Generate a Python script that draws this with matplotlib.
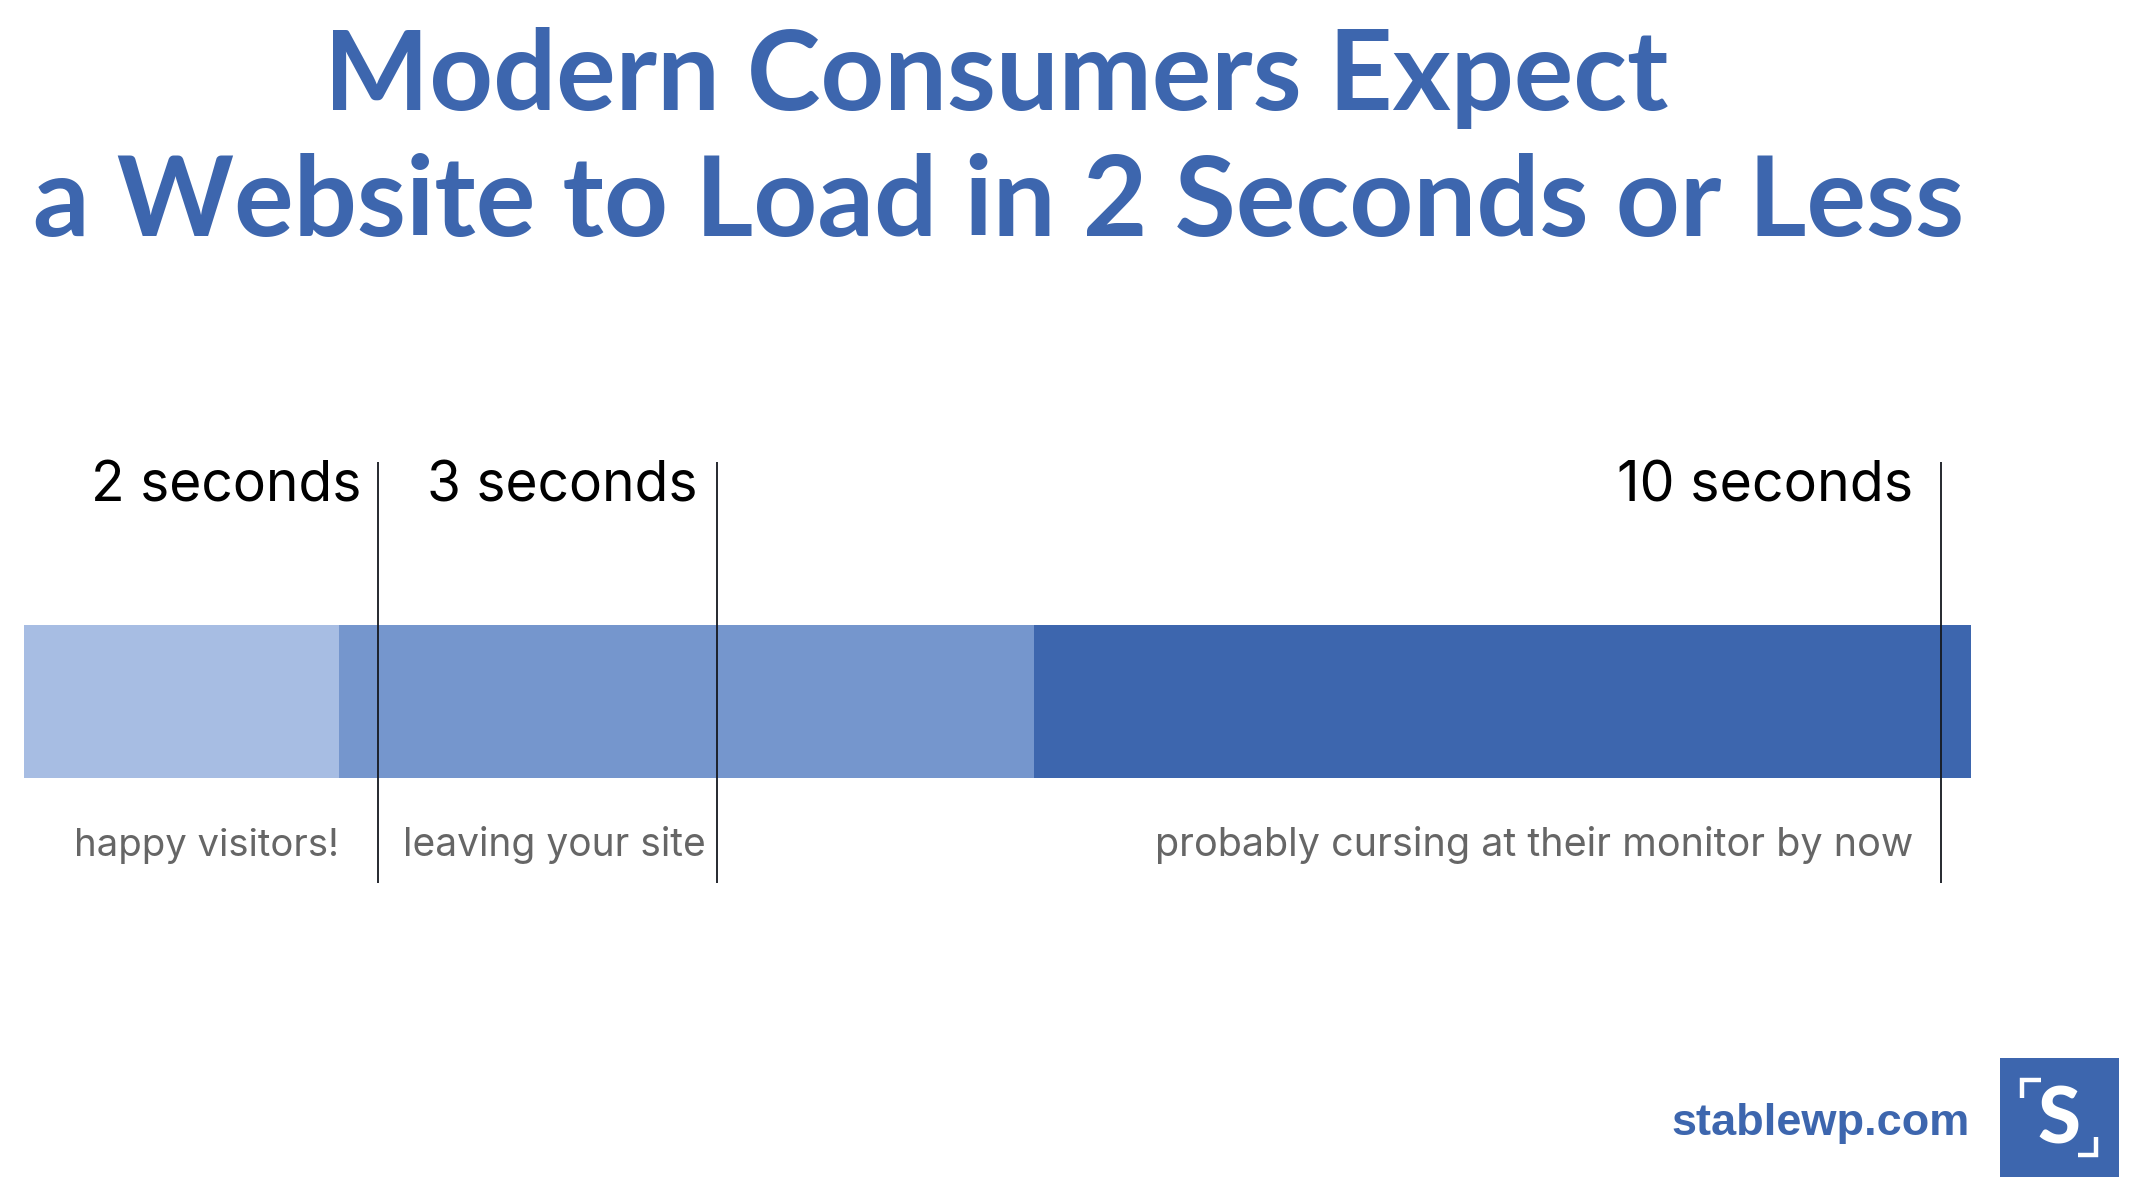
import matplotlib
matplotlib.use("Agg")
import matplotlib.pyplot as plt
from matplotlib.patches import Rectangle
from matplotlib.lines import Line2D

W, H = 2136, 1192
BLUE = "#3d66ae"

# Data, in percent of the full bar length
segment_starts = [0.0, 16.2, 51.9]
segment_widths = [16.2, 35.7, 48.1]
segment_colors = ["#a7bde3", "#7596cd", "#3d66ae"]
marker_positions = [18.2, 35.57, 98.45]
marker_labels = ["2 seconds", "3 seconds", "10 seconds"]
marker_notes = ["happy visitors!", "leaving your site", "probably cursing at their monitor by now"]
title_lines = ["Modern Consumers Expect", "a Website to Load in 2 Seconds or Less"]

fig = plt.figure(figsize=(W / 100, H / 100), dpi=100, facecolor="white")


def fx(x):
    return x / W


def fy(y):
    return 1 - y / H


def put(s, left, right, baseline, size, **kw):
    """Text with baseline at a pixel row, fitted between two pixel columns."""
    t = fig.text(fx(left), fy(baseline), s, ha="left", va="baseline", fontsize=size, **kw)
    r = fig.canvas.get_renderer()
    ext = t.get_window_extent(r)
    t.set_fontsize(size * (right - left) / ext.width)
    ext = t.get_window_extent(r)
    t.set_x(fx(left - (ext.x0 - left)))
    return t


# Bar axes: spans the bar horizontally and the marker lines vertically
ax = fig.add_axes([fx(24), fy(883), fx(1971) - fx(24), (883 - 462) / H])
ax.set_xlim(0, 100)
ax.set_ylim(-105 / 153, 1 + 163 / 153)
ax.axis("off")
ax.barh([0] * 3, segment_widths, left=segment_starts, height=1, align="edge",
        color=segment_colors, linewidth=0)
ax.vlines(marker_positions, *ax.get_ylim(), color="#15181f", linewidth=1.3)

# Title
put(title_lines[0], 324, 1668, 110, 84, family="Lato", weight="bold", color=BLUE)
put(title_lines[1], 33, 1963, 236, 84, family="Lato", weight="bold", color=BLUE)

# Marker labels
label_spans = [(91, 362), (427, 698), (1617, 1913)]
for s, (l, r) in zip(marker_labels, label_spans):
    put(s, l, r, 502, 40, family="Inter", color="black")

note_spans = [(74, 339), (403, 706), (1155, 1915)]
for s, (l, r) in zip(marker_notes, note_spans):
    put(s, l, r, 856, 28, family="Inter", color="#666666")

# Footer brand
put("stablewp.com", 1671, 1970, 1135, 32, family="Liberation Sans", weight="bold", color=BLUE)
fig.add_artist(Rectangle((fx(2000), fy(1177)), 119 / W, 119 / H, transform=fig.transFigure,
                         facecolor=BLUE, edgecolor="none"))
fig.text(fx(2059), fy(1143), "S", ha="center", va="baseline", fontsize=56,
         family="Lato", weight="black", color="white")
for xs, ys in [((2041, 2022, 2022), (1080, 1080, 1098)),
               ((2078, 2096, 2096), (1155, 1155, 1137))]:
    fig.add_artist(Line2D([fx(v) for v in xs], [fy(v) for v in ys], transform=fig.transFigure,
                          color="white", linewidth=3.2, solid_capstyle="butt",
                          solid_joinstyle="miter"))

fig.savefig("out.png", dpi=100)
